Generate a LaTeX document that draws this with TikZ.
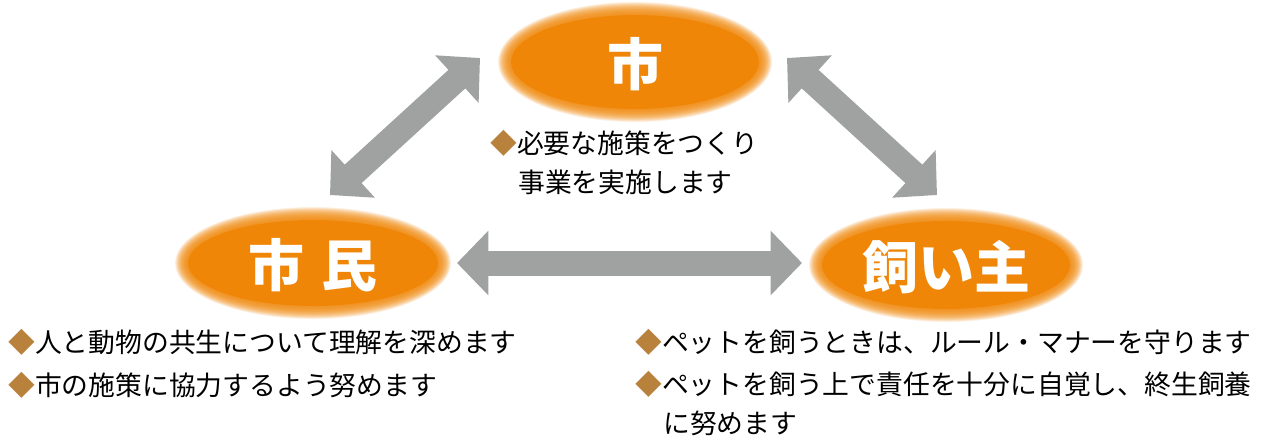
\documentclass[tikz,border=0pt]{standalone}
\usepackage{fontspec}
\setmainfont{Noto Sans CJK JP}
\usetikzlibrary{arrows.meta}
\definecolor{orng}{RGB}{239,134,8}
\definecolor{arrowgray}{RGB}{160,162,161}
\definecolor{dia}{RGB}{185,130,60}
\newcommand{\dm}{\textcolor{dia}{◆}}
\newcommand{\glowell}[4]{%
  \foreach \k in {0,...,17}{%
    \fill[orng, opacity=0.11] (#1,#2) ellipse [x radius={#3+5-0.7*\k}, y radius={#4+5-0.7*\k}];
  }%
  \fill[orng] (#1,#2) ellipse [x radius={#3-8}, y radius={#4-8}];
}
\tikzset{
  lbl/.style={text=white, inner sep=0pt, font=\fontsize{42}{50}\selectfont\bfseries},
  txt/.style={text=black, inner sep=0pt, anchor=base west, font=\fontsize{20.1}{24}\selectfont},
  dblarrow/.style={draw=arrowgray, line width=18.75pt, line cap=butt,
    arrows={Triangle[width=47pt,length=23.5pt]-Triangle[width=47pt,length=23.5pt]}}
}
\begin{document}
\begin{tikzpicture}[x=0.75pt,y=-0.75pt]
\useasboundingbox (0,0) rectangle (1267,437);
% ellipses
\glowell{635}{62}{132}{55}
\glowell{313}{263}{133}{51}
\glowell{946}{265}{132}{52}
\node[lbl] (shi) at (635,64) {市};
\node[lbl] (shimin) at (313,265) {市\hspace{0.3em}民};
\node[lbl] (kainushi) at (946,267) {飼い主};
% arrows
\coordinate (L1) at (480,58);
\coordinate (L2) at (330,195);
\coordinate (R1) at (787,58);
\coordinate (R2) at (937,195);
\coordinate (H1) at (457,263);
\coordinate (H2) at (802,263);
\draw[dblarrow] (L2) -- (L1);
\draw[dblarrow] (R1) -- (R2);
\draw[dblarrow] (H1) -- (H2);
% texts
\node[txt] (t1) at (490,153) {\dm 必要な施策をつくり};
\node[txt] (t2) at (518,192) {事業を実施します};
\node[txt] (c1) at (8,352) {\dm 人と動物の共生について理解を深めます};
\node[txt] (c2) at (8,395) {\dm 市の施策に協力するよう努めます};
\node[txt] (k1) at (635,352) {\dm ペットを飼うときは、ルール・マナーを守ります};
\node[txt] (k2) at (635,394) {\dm ペットを飼う上で責任を十分に自覚し、終生飼養};
\node[txt] (k3) at (663,433) {に努めます};
\end{tikzpicture}
\end{document}
